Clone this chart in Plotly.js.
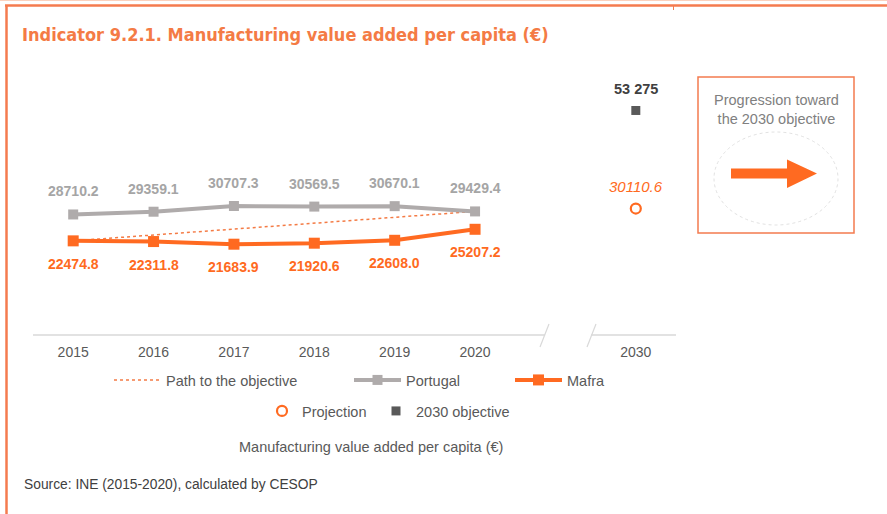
<!DOCTYPE html>
<html>
<head>
<meta charset="utf-8">
<script src="https://cdn.plot.ly/plotly-3.0.1.min.js"></script>
<style>html,body{margin:0;padding:0;background:#fff;}</style>
</head>
<body>
<div id="chart" style="width:887px;height:514px;"></div>
<script>
// ---- data ----
const years = ["2015", "2016", "2017", "2018", "2019", "2020"];
const targetYear = "2030";
const portugal = [28710.2, 29359.1, 30707.3, 30569.5, 30670.1, 29429.4];
const mafra = [22474.8, 22311.8, 21683.9, 21920.6, 22608.0, 25207.2];
const pathYears = ["2015", "2020"];
const pathValues = [22474.8, 29429.4];
const projection = [30110.6];
const objective = [53275];
const objectiveLabel = ["53 275"];
const tickLabels = ["2015", "2016", "2017", "2018", "2019", "2020", "2030"];

// ---- helpers ----
const W = 887, H = 514;
const px = x => x / W;
const py = y => 1 - y / H;
// category position on the axis (two empty slots before 2030)
const pos = y => (y === targetYear ? 7 : years.indexOf(y));
const xs = years.map(pos);

const ORANGE = "#FF6A21";
const ORANGE_T = "#F47B45";
const GRAY = "#AFABAB";
const DARK = "#595959";
const FONT = "Liberation Sans, Arial, sans-serif";

const traces = [
  {
    name: "Path to the objective", x: pathYears.map(pos), y: pathValues, mode: "lines",
    line: {color: ORANGE_T, width: 1.5, dash: "dot"}, legend: "legend", hoverinfo: "skip"
  },
  {
    name: "Portugal", x: xs, y: portugal, mode: "lines+markers",
    line: {color: GRAY, width: 4}, marker: {symbol: "square", size: 10, color: GRAY},
    legend: "legend2"
  },
  {
    name: "Mafra", x: xs, y: mafra, mode: "lines+markers",
    line: {color: ORANGE, width: 4}, marker: {symbol: "square", size: 11, color: ORANGE},
    legend: "legend3"
  },
  {
    name: "Projection", x: [pos(targetYear)], y: projection, mode: "markers",
    marker: {symbol: "circle-open", size: 10, color: ORANGE, line: {width: 2.2, color: ORANGE}},
    legend: "legend4"
  },
  {
    name: "2030 objective", x: [pos(targetYear)], y: objective, mode: "markers",
    marker: {symbol: "square", size: 9, color: DARK},
    legend: "legend5"
  }
];

const annotations = [];
portugal.forEach((v, i) => annotations.push({
  x: xs[i], y: v, xref: "x", yref: "y", text: v.toFixed(1), showarrow: false,
  yshift: 23, font: {family: FONT, size: 14, color: "#A5A5A5", weight: "bold"}
}));
mafra.forEach((v, i) => annotations.push({
  x: xs[i], y: v, xref: "x", yref: "y", text: v.toFixed(1), showarrow: false,
  yshift: -23, font: {family: FONT, size: 14, color: ORANGE, weight: "bold"}
}));
annotations.push({
  x: pos(targetYear), y: projection[0], xref: "x", yref: "y", text: projection[0].toFixed(1),
  showarrow: false, yshift: 22, font: {family: FONT, size: 15, color: ORANGE, style: "italic"}
});
annotations.push({
  x: pos(targetYear), y: objective[0], xref: "x", yref: "y", text: objectiveLabel[0],
  showarrow: false, yshift: 21, font: {family: FONT, size: 14.5, color: "#404040", weight: "bold"}
});
annotations.push({
  x: px(776), y: py(109.5), xref: "paper", yref: "paper", showarrow: false,
  xanchor: "center", yanchor: "middle",
  text: "Progression toward<br>the 2030 objective", align: "center",
  font: {family: FONT, size: 14.5, color: "#808080"}
});
annotations.push({
  x: px(371), y: py(447), xref: "paper", yref: "paper", showarrow: false,
  xanchor: "center", yanchor: "middle",
  text: "Manufacturing value added per capita (€)",
  font: {family: FONT, size: 14.5, color: DARK}
});
annotations.push({
  x: px(22), y: py(484), xref: "paper", yref: "paper", showarrow: false, xanchor: "left", yanchor: "middle",
  text: "Source: INE (2015-2020), calculated by CESOP",
  font: {family: FONT, size: 13.8, color: "#404040"}
});

const shapes = [
  // outer frame (top and left)
  {type: "line", xref: "paper", yref: "paper", x0: px(5), x1: px(887), y0: py(5.5), y1: py(5.5), line: {color: "#F47B4F", width: 2.5}},
  {type: "line", xref: "paper", yref: "paper", x0: px(6.5), x1: px(6.5), y0: py(5), y1: py(514), line: {color: "#F47B4F", width: 2.5}},
  {type: "line", xref: "paper", yref: "paper", x0: px(0), x1: px(887), y0: py(0.5), y1: py(0.5), line: {color: "#FBD2BE", width: 1}},
  {type: "line", xref: "paper", yref: "paper", x0: px(673.5), x1: px(673.5), y0: py(6), y1: py(10), line: {color: "#F47B4F", width: 1}},
  // broken horizontal axis
  {type: "line", xref: "paper", yref: "paper", x0: px(33), x1: px(545), y0: py(335), y1: py(335), line: {color: "#D9D9D9", width: 1.5}},
  {type: "line", xref: "paper", yref: "paper", x0: px(591), x1: px(676), y0: py(335), y1: py(335), line: {color: "#D9D9D9", width: 1.5}},
  {type: "line", xref: "paper", yref: "paper", x0: px(540), x1: px(549), y0: py(347), y1: py(324), line: {color: "#D9D9D9", width: 1.2}},
  {type: "line", xref: "paper", yref: "paper", x0: px(587), x1: px(596), y0: py(347), y1: py(324), line: {color: "#D9D9D9", width: 1.2}},
  // progression box
  {type: "rect", xref: "paper", yref: "paper", x0: px(698), x1: px(854), y0: py(77), y1: py(233), line: {color: "#F47B4F", width: 1.5}},
  {type: "circle", xref: "paper", yref: "paper", x0: px(714), x1: px(838), y0: py(132), y1: py(225), line: {color: "#D9D9D9", width: 0.8, dash: "dot"}},
  {type: "path", xref: "paper", yref: "paper", fillcolor: ORANGE, line: {width: 0},
   path: `M ${px(731)},${py(168.5)} L ${px(787)},${py(168.5)} L ${px(787)},${py(159.5)} L ${px(817)},${py(173.5)} L ${px(787)},${py(188)} L ${px(787)},${py(178.5)} L ${px(731)},${py(178.5)} Z`}
];

const legendBase = {
  orientation: "h", xanchor: "left", yanchor: "middle", bgcolor: "rgba(0,0,0,0)",
  font: {family: FONT, size: 14.5, color: DARK}, itemwidth: 47, itemclick: false, itemdoubleclick: false
};

const layout = {
  width: W, height: H,
  margin: {l: 0, r: 0, t: 0, b: 0},
  paper_bgcolor: "#ffffff", plot_bgcolor: "#ffffff",
  title: {
    text: "Indicator 9.2.1. Manufacturing value added per capita (€)",
    x: px(22), xanchor: "left", y: py(35), yanchor: "middle", xref: "paper", yref: "paper",
    font: {family: "DejaVu Sans Condensed, Liberation Sans Narrow, sans-serif", size: 18, color: ORANGE_T, weight: "bold"}
  },
  xaxis: {
    domain: [px(33), px(676)], range: [-0.5, 7.5], tickmode: "array",
    tickvals: [0, 1, 2, 3, 4, 5, 7], ticktext: tickLabels,
    showgrid: false, zeroline: false, showline: false, ticks: "",
    tickfont: {family: FONT, size: 14, color: DARK}, ticklabelstandoff: 6
  },
  yaxis: {
    domain: [py(336), py(82)], range: [0, 60000], visible: false, showgrid: false, zeroline: false
  },
  showlegend: true,
  legend: Object.assign({}, legendBase, {x: px(109), y: py(380)}),
  legend2: Object.assign({}, legendBase, {x: px(349), y: py(380)}),
  legend3: Object.assign({}, legendBase, {x: px(510), y: py(380)}),
  legend4: Object.assign({}, legendBase, {x: px(262), y: py(411), itemwidth: 30}),
  legend5: Object.assign({}, legendBase, {x: px(376), y: py(411), itemwidth: 30}),
  annotations: annotations,
  shapes: shapes,
  hovermode: false
};

Plotly.newPlot("chart", traces, layout, {displayModeBar: false, staticPlot: true});
</script>
</body>
</html>
